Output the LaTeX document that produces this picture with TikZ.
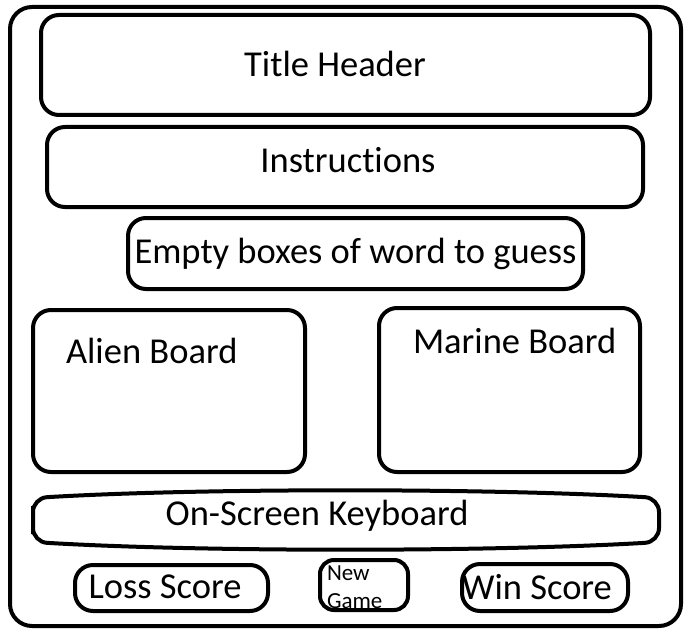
\documentclass[tikz,border=0pt]{standalone}
\usepackage{fontspec}
\setmainfont[Ligatures=NoCommon]{Carlito}
\usetikzlibrary{positioning}
\begin{document}
\begin{tikzpicture}[x=1pt,y=-1pt,line width=4pt,
 box/.style={draw, rounded corners=18pt, inner sep=0pt, font=\fontsize{36.5}{40}\selectfont},
 lbl/.style={inner sep=0pt, font=\fontsize{36.5}{40}\selectfont},
 small/.style={inner sep=0pt, font=\fontsize{23}{26}\selectfont}]
\useasboundingbox (0,0) rectangle (692,639);
% outer frame
\draw[rounded corners=22pt] (10,7) rectangle (681,626);
\node[box, minimum width=609pt, minimum height=100pt] (title) at (345.5,65) {};
\node[lbl] (titlelbl) at (335,64) {Title Header};
\node[box, minimum width=596pt, minimum height=80pt] (instr) at (345,167) {};
\node[lbl] (instrlbl) at (348,160) {Instructions};
\node[box, minimum width=455pt, minimum height=71pt] (word) at (355.5,253.5) {Empty boxes of word to guess};
% boards
\node[box, minimum width=272pt, minimum height=162pt] (alien) at (169,391) {};
\node[lbl, anchor=west] (alienlbl) at (64,351) {Alien Board};
\node[box, minimum width=261pt, minimum height=164pt] (marine) at (509.5,390) {};
\node[lbl, anchor=west] (marinelbl) at (411,341) {Marine Board};
% keyboard
\draw[rounded corners=14pt] (33,520) -- (33,498) .. controls (200,488) and (490,488) .. (659,498)
 -- (659,542) .. controls (490,552) and (200,552) .. (33,542) -- cycle;
\node[lbl] (keyb) at (317,516) {On-Screen Keyboard};
% bottom row
\node[box, minimum width=193pt, minimum height=46pt] (loss) at (171.5,588) {};
\node[lbl] (losslbl) at (165,587) {Loss Score};
\node[box, rounded corners=14pt, minimum width=88pt, minimum height=50pt] (newgame) at (364,585) {};
\node[small, anchor=west] (newlbl) at (325,573) {New};
\node[small, anchor=west] (gamelbl) at (325,601) {Game};
\node[box, minimum width=166pt, minimum height=47pt] (win) at (545,587.5) {};
\node[lbl] (winlbl) at (537,587) {Win Score};
\end{tikzpicture}
\end{document}
